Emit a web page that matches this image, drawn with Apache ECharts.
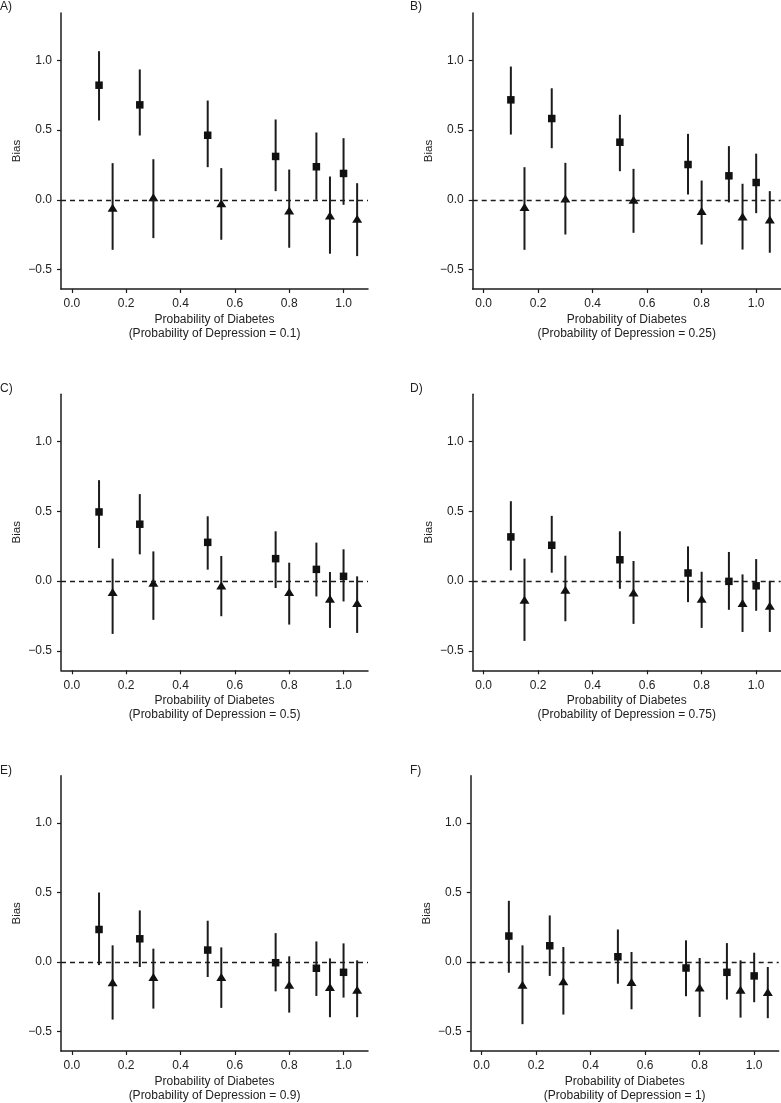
<!DOCTYPE html>
<html>
<head>
<meta charset="utf-8">
<script src="https://cdn.jsdelivr.net/npm/echarts@6/dist/echarts.min.js"></script>
<style>html,body{margin:0;padding:0;background:#fff}#c{width:781px;height:1103px}</style>
</head>
<body>
<div id="c"></div>
<script>
// ---- data ----
const panelLabels = ['A)', 'B)', 'C)', 'D)', 'E)', 'F)'];
const depressionProb = ['0.1', '0.25', '0.5', '0.75', '0.9', '1'];
const squareX = [0.1, 0.25, 0.5, 0.75, 0.9, 1.0];
const triangleX = [0.15, 0.3, 0.55, 0.8, 0.95, 1.05];
const xTicks = [0, 0.2, 0.4, 0.6, 0.8, 1.0];
const yTicks = [-0.5, 0, 0.5, 1.0];

// Panel A
const sqMeanA = [0.822, 0.681, 0.463, 0.311, 0.237, 0.189];
const sqLowA  = [0.569, 0.461, 0.234, 0.062, 0.0, -0.036];
const sqHighA = [1.066, 0.935, 0.712, 0.576, 0.483, 0.442];
const trMeanA = [-0.057, 0.019, -0.024, -0.077, -0.113, -0.136];
const trLowA  = [-0.359, -0.275, -0.287, -0.344, -0.387, -0.404];
const trHighA = [0.263, 0.291, 0.227, 0.217, 0.167, 0.119];
// Panel B
const sqMeanB = [0.717, 0.583, 0.413, 0.253, 0.172, 0.124];
const sqLowB  = [0.468, 0.37, 0.205, 0.038, -0.019, -0.096];
const sqHighB = [0.956, 0.80, 0.61, 0.473, 0.385, 0.331];
const trMeanB = [-0.052, 0.009, 0.0, -0.081, -0.12, -0.141];
const trLowB  = [-0.359, -0.249, -0.237, -0.321, -0.357, -0.38];
const trHighB = [0.234, 0.265, 0.222, 0.138, 0.115, 0.062];
// Panel C
const sqMeanC = [0.496, 0.408, 0.278, 0.161, 0.084, 0.034];
const sqLowC  = [0.237, 0.192, 0.082, -0.05, -0.11, -0.146];
const sqHighC = [0.724, 0.624, 0.465, 0.357, 0.276, 0.228];
const trMeanC = [-0.079, -0.012, -0.031, -0.079, -0.127, -0.158];
const trLowC  = [-0.379, -0.278, -0.252, -0.312, -0.336, -0.372];
const trHighC = [0.161, 0.213, 0.18, 0.132, 0.065, 0.034];
// Panel D
const sqMeanD = [0.317, 0.257, 0.153, 0.058, -0.002, -0.034];
const sqLowD  = [0.077, 0.06, -0.055, -0.151, -0.206, -0.213];
const sqHighD = [0.573, 0.468, 0.357, 0.249, 0.209, 0.158];
const trMeanD = [-0.134, -0.062, -0.082, -0.127, -0.158, -0.177];
const trLowD  = [-0.429, -0.288, -0.307, -0.336, -0.365, -0.365];
const trHighD = [0.161, 0.182, 0.144, 0.067, 0.048, 0.002];
// Panel E
const sqMeanE = [0.234, 0.167, 0.086, -0.005, -0.045, -0.074];
const sqLowE  = [-0.022, -0.036, -0.108, -0.211, -0.244, -0.256];
const sqHighE = [0.5, 0.371, 0.297, 0.208, 0.148, 0.134];
const trMeanE = [-0.146, -0.108, -0.108, -0.163, -0.179, -0.199];
const trLowE  = [-0.414, -0.335, -0.33, -0.364, -0.397, -0.397];
const trHighE = [0.12, 0.096, 0.105, 0.041, 0.026, 0.012];
// Panel F
const sqMeanF = [0.187, 0.117, 0.038, -0.043, -0.074, -0.1];
const sqLowF  = [-0.077, -0.1, -0.156, -0.246, -0.27, -0.289];
const sqHighF = [0.44, 0.335, 0.234, 0.156, 0.136, 0.067];
const trMeanF = [-0.163, -0.139, -0.144, -0.184, -0.199, -0.215];
const trLowF  = [-0.447, -0.378, -0.34, -0.395, -0.4, -0.404];
const trHighF = [0.12, 0.108, 0.072, 0.029, 0.012, -0.036];

const panels = [
  [sqMeanA, sqLowA, sqHighA, trMeanA, trLowA, trHighA],
  [sqMeanB, sqLowB, sqHighB, trMeanB, trLowB, trHighB],
  [sqMeanC, sqLowC, sqHighC, trMeanC, trLowC, trHighC],
  [sqMeanD, sqLowD, sqHighD, trMeanD, trLowD, trHighD],
  [sqMeanE, sqLowE, sqHighE, trMeanE, trLowE, trHighE],
  [sqMeanF, sqLowF, sqHighF, trMeanF, trLowF, trHighF]
];

// ---- layout ----
const gridBoxes = [
  {left: 61, top: 13, width: 307, height: 276},
  {left: 472.7, top: 13, width: 308, height: 276},
  {left: 61, top: 394.3, width: 307, height: 276},
  {left: 472.7, top: 394.3, width: 308, height: 276},
  {left: 61, top: 775.7, width: 307, height: 276},
  {left: 470.7, top: 775.7, width: 308, height: 276}
];
const labelPos = [[0, 1], [410, 1], [0, 383], [410, 383], [0, 765], [410, 765]];

const FONT = 'Liberation Sans';
const INK = '#1c1c1c';
const TXT = '#222';

function fmt(v) {
  const s = Math.abs(v).toFixed(1);
  return v < 0 ? '\u2212' + s : s;
}

const option = {
  backgroundColor: '#fff',
  animation: false,
  textStyle: {fontFamily: FONT},
  title: panelLabels.map((t, i) => ({
    text: t, left: labelPos[i][0], top: labelPos[i][1], padding: 0,
    textStyle: {fontSize: 12, fontWeight: 'normal', color: TXT, fontFamily: FONT}
  })),
  grid: gridBoxes.map(g => Object.assign({containLabel: false}, g)),
  xAxis: gridBoxes.map((g, i) => ({
    type: 'value', gridIndex: i, min: -0.04, max: 1.09,
    name: 'Probability of Diabetes\n(Probability of Depression = ' + depressionProb[i] + ')',
    nameLocation: 'middle', nameGap: 24,
    nameTextStyle: {fontSize: 12, color: TXT, lineHeight: 13.5, fontFamily: FONT},
    axisLine: {show: true, onZero: false, lineStyle: {color: INK, width: 1.5}},
    axisTick: {show: true, length: 4, inside: false, customValues: xTicks, lineStyle: {color: INK, width: 1.2}},
    axisLabel: {customValues: xTicks, margin: 9, fontSize: 12, color: TXT, fontFamily: FONT, formatter: fmt},
    splitLine: {show: false}
  })),
  yAxis: gridBoxes.map((g, i) => ({
    type: 'value', gridIndex: i, min: -0.64, max: 1.34,
    name: 'Bias', nameLocation: 'middle', nameGap: 38,
    nameTextStyle: {fontSize: 11.5, color: TXT, fontFamily: FONT},
    axisLine: {show: true, onZero: false, lineStyle: {color: INK, width: 1.5}},
    axisTick: {show: true, length: 4, inside: false, customValues: yTicks, lineStyle: {color: INK, width: 1.2}},
    axisLabel: {customValues: yTicks, margin: 9, fontSize: 12, color: TXT, fontFamily: FONT, formatter: fmt},
    splitLine: {show: false}
  })),
  series: []
};

function errRender(params, api) {
  const x = api.value(0), lo = api.value(1), hi = api.value(2);
  const p1 = api.coord([x, lo]);
  const p2 = api.coord([x, hi]);
  return {type: 'line', shape: {x1: p1[0], y1: p1[1], x2: p2[0], y2: p2[1]},
          style: {stroke: INK, lineWidth: 2}};
}

panels.forEach((p, i) => {
  const [sm, sl, sh, tm, tl, th] = p;
  option.series.push({
    type: 'custom', xAxisIndex: i, yAxisIndex: i, renderItem: errRender,
    encode: {x: 0, y: [1, 2]}, silent: true,
    data: squareX.map((x, k) => [x, sl[k], sh[k]]).concat(triangleX.map((x, k) => [x, tl[k], th[k]])),
    markLine: {
      silent: true, symbol: ['none', 'none'], label: {show: false},
      lineStyle: {type: [5, 4], color: INK, width: 1.3},
      data: [{yAxis: 0}]
    }
  });
  option.series.push({
    type: 'scatter', xAxisIndex: i, yAxisIndex: i, symbol: 'rect', symbolSize: 7.5,
    itemStyle: {color: '#111', opacity: 1}, silent: true,
    data: squareX.map((x, k) => [x, sm[k]])
  });
  option.series.push({
    type: 'scatter', xAxisIndex: i, yAxisIndex: i, symbol: 'triangle', symbolSize: [10, 8],
    itemStyle: {color: '#111', opacity: 1}, silent: true,
    data: triangleX.map((x, k) => [x, tm[k]])
  });
});

const chart = echarts.init(document.getElementById('c'), null, {renderer: 'canvas'});
chart.setOption(option);
</script>
</body>
</html>
